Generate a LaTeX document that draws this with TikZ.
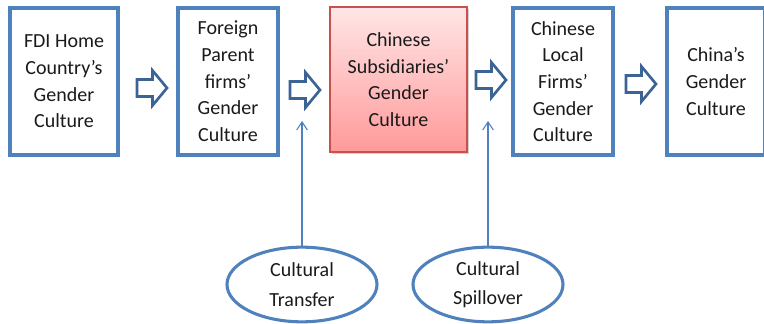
\documentclass[tikz,border=0pt]{standalone}
\usepackage{fontspec}
\setmainfont{Carlito}
\usetikzlibrary{shadows,arrows.meta,shapes.geometric}
\definecolor{boxblue}{HTML}{4F81BD}
\definecolor{arrblue}{HTML}{3B6394}
\definecolor{rededge}{HTML}{C9504D}
\definecolor{redtop}{HTML}{FFE6E6}
\definecolor{redbot}{HTML}{FF9A9A}
\definecolor{txt}{HTML}{1A1A1A}
\tikzset{
  culture/.style={draw=boxblue, line width=2.3pt, fill=white, align=center,
    text=txt, font=\fontsize{15}{20}\selectfont, inner sep=0pt},
  redbox/.style={draw=rededge, line width=0.9pt, top color=redtop, bottom color=redbot,
    align=center, text=txt, font=\fontsize{15}{20}\selectfont, inner sep=0pt,
    drop shadow={shadow xshift=1.5pt, shadow yshift=-1.5pt, opacity=0.35}},
  oval/.style={draw=boxblue, line width=2.3pt, fill=white, ellipse, align=center,
    text=txt, font=\fontsize{15}{22}\selectfont, inner sep=0pt,
    minimum width=112.5pt, minimum height=56pt},
  blockarr/.style={draw=arrblue, line width=2pt, fill=white, line join=miter},
  thinarr/.style={draw=boxblue, line width=0.8pt, -{Straight Barb[length=6pt,width=8pt]}},
  blockarrow/.pic={\draw[blockarr] (-15,-8.5) -- (0.5,-8.5) -- (0.5,-17.5) -- (15,0)
     -- (0.5,17.5) -- (0.5,8.5) -- (-15,8.5) -- cycle;}
}
\begin{document}
\begin{tikzpicture}[x=0.75pt,y=-0.75pt]
\useasboundingbox (0,0) rectangle (764,324);
\node[culture, minimum width=81pt, minimum height=110.25pt] (b1) at (64,81.5)
  {FDI Home\\Country’s\\Gender\\Culture};
\node[culture, minimum width=75pt, minimum height=110.25pt] (b2) at (228,81.5)
  {Foreign\\Parent\\firms’\\Gender\\Culture};
\node[redbox, minimum width=102.75pt, minimum height=108.75pt] (b3) at (398.5,79.5)
  {Chinese\\Subsidiaries’\\Gender\\Culture};
\node[culture, minimum width=75pt, minimum height=110.25pt] (b4) at (563,81.5)
  {Chinese\\Local\\Firms’\\Gender\\Culture};
\node[culture, minimum width=73.5pt, minimum height=110.25pt] (b5) at (716,81.5)
  {China’s\\Gender\\Culture};
\pic at (152,88) {blockarrow};
\pic at (305,90) {blockarrow};
\pic at (491,80) {blockarrow};
\pic at (641,84) {blockarrow};
\node[oval] (e1) at (302,284.5) {Cultural\\Transfer};
\node[oval] (e2) at (488,284.5) {Cultural\\Spillover};
\coordinate (t1) at (302,121);
\coordinate (t2) at (488,121);
\draw[thinarr] (e1.north) -- (t1);
\draw[thinarr] (e2.north) -- (t2);
\end{tikzpicture}
\end{document}
